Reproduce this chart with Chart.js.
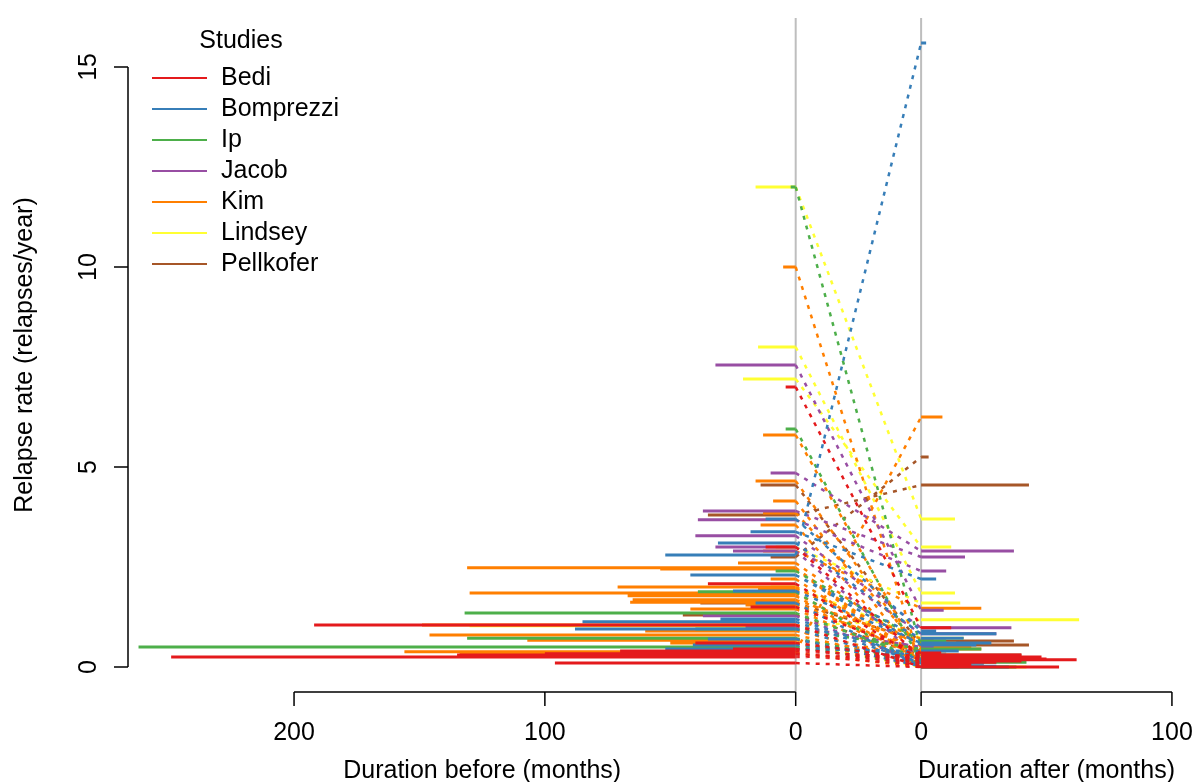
<!DOCTYPE html>
<html lang="en">

<head>
  <meta charset="UTF-8">
  <title>Relapse rate before and after</title>
  <style>
    body {
      margin: 0;
      background-color: #ffffff;
    }

    #chart {
      display: block;
    }
  </style>
  <script src="https://cdn.jsdelivr.net/npm/chart.js"></script>
</head>

<body>
  <canvas id="chart" width="1196" height="782"></canvas>

  <script>
    // Studies (legend order)
    const studies = ['Bedi', 'Bomprezzi', 'Ip', 'Jacob', 'Kim', 'Lindsey', 'Pellkofer'];

    // One entry per patient: study index, rate + duration before, rate + duration after
    const patientStudy = [
      0, 0, 0, 0, 0, 0, 0, 0, 0, 0, 0, 0,
      1, 1, 1, 1, 1, 1, 1, 1, 1, 1, 1, 1,
      2, 2, 2, 2, 2, 2, 2, 2,
      3, 3, 3, 3, 3, 3, 3, 3, 3,
      4, 4, 4, 4, 4, 4, 4, 4, 4, 4, 4, 4, 4, 4, 4, 4, 4, 4, 4, 4, 4, 4, 4,
      5, 5, 5, 5, 5, 5, 5,
      6, 6, 6, 6, 6, 6,
      0, 0, 1, 1, 2, 4, 4, 4
    ];
    const rateBefore = [
      7.0, 3.0, 2.08, 1.05, 0.25, 0.25, 0.3, 0.33, 0.1, 0.6, 0.45, 1.5,
      2.8, 3.38, 3.1, 2.3, 2.3, 1.6, 1.13, 0.95, 0.55, 0.45, 1.9, 3.7,
      12, 5.95, 1.88, 1.35, 0.72, 0.5, 0.5, 2.4,
      7.55, 4.85, 3.9, 3.68, 3.28, 3.0, 2.9, 1.28, 1.0,
      10, 5.8, 0.38, 4.65, 4.15, 3.85, 3.55, 2.9, 2.6, 2.48, 2.45, 2.0, 1.85, 1.78, 1.68, 1.62, 1.45, 1.05, 0.8, 0.67, 0.35, 1.95, 2.2,
      12, 8, 7.2, 1.03, 3.0, 2.0, 0.6,
      4.55, 3.8, 2.75, 1.6, 1.3, 0.7,
      0.28, 0.4, 0.7, 1.2, 0.95, 0.6, 1.55, 0.9
    ];
    const monthsBefore = [
      4, 12, 35, 192, 249, 141, 135, 100, 96, 40, 25, 18,
      52, 18, 31, 42, 20, 16, 85, 88, 41, 52, 25, 12,
      2, 4, 39, 132, 131, 262, 100, 8,
      32, 10, 37, 39, 40, 32, 25, 37, 20,
      5, 13, 156, 16, 9, 13, 14, 13, 23, 131, 54, 71, 130, 67, 65, 66, 42, 149, 146, 107, 134, 15, 10,
      16, 15, 21, 130, 8, 10, 18,
      14, 35, 10, 38, 45, 25,
      130, 70, 35, 30, 40, 50, 20, 60
    ];
    const rateAfter = [
      0.98, 0.25, 0.18, 0, 0.3, 0.25, 0.05, 0.12, 0, 0.2, 0.15, 0.35,
      15.6, 2.2, 0.83, 0.72, 0.55, 0, 0.1, 0.05, 0.3, 0.4, 0.6, 0.9,
      0.45, 0.12, 0, 0.2, 0.1, 0.05, 0.3, 0.65,
      1.42, 2.9, 2.75, 2.4, 0.98, 0.83, 0.2, 0.1, 0.5,
      0.1, 0.2, 6.25, 0.3, 0.05, 0.5, 0, 1.47, 0.45, 0.2, 0.1, 0.35, 0.15, 0, 0.6, 0.25, 0.05, 0.4, 0.1, 0.3, 0, 0.7, 0.15,
      3.7, 1.85, 3.0, 1.18, 1.6, 0.72, 0,
      0.55, 4.55, 5.25, 0.65, 0.3, 0.1,
      0.08, 0.22, 0.02, 0.18, 0.45, 0.12, 0.4, 0.2
    ];
    const monthsAfter = [
      12, 48, 62, 55, 40, 45, 20, 30, 10, 50, 40, 8,
      2, 6, 30, 17, 22, 35, 25, 20, 10, 15, 28, 6,
      24, 42, 38, 8, 5, 12, 4, 10,
      9, 37, 17.5, 10, 36, 30, 15, 8, 5,
      3, 6, 8.5, 15, 10, 20, 6, 24, 24, 18, 12, 8, 30, 4, 14, 6, 20, 10, 25, 2, 15, 5, 12,
      13.5, 13.5, 12, 63, 15.6, 17, 42,
      43, 43, 3, 37, 40, 10,
      15, 35, 30, 12, 20, 5, 3, 16
    ];

    // Tick labels of the split x axis and the y axis
    const xTicksBefore = [200, 100, 0];
    const xTicksAfter = [0, 100];
    const yTicks = [0, 5, 10, 15];

    // styles
    const studyColors = ['#E41A1C', '#377EB8', '#4DAF4A', '#984EA3', '#FF7F00', '#FFFF33', '#A65628'];
    const GAP = 50;            // width (in months units) of the connecting band
    const FONT = '25px "Liberation Sans", Arial, sans-serif';

    // Build 3 datasets per study: before segments, after segments, dashed connectors
    const datasets = [];
    studies.forEach((name, s) => {
      const before = [], after = [], link = [];
      patientStudy.forEach((st, i) => {
        if (st !== s) return;
        before.push({ x: -monthsBefore[i], y: rateBefore[i] }, { x: 0, y: rateBefore[i] }, { x: 0, y: null });
        after.push({ x: GAP, y: rateAfter[i] }, { x: GAP + monthsAfter[i], y: rateAfter[i] }, { x: GAP, y: null });
        link.push({ x: 0, y: rateBefore[i] }, { x: GAP, y: rateAfter[i] }, { x: 0, y: null });
      });
      const base = { borderColor: studyColors[s], pointRadius: 0, spanGaps: false, fill: false };
      datasets.push({ ...base, label: name, data: before, borderWidth: 3 });
      datasets.push({ ...base, label: name + ' after', data: after, borderWidth: 3 });
      datasets.push({ ...base, label: name + ' link', data: link, borderWidth: 2.5, borderDash: [4, 6] });
    });

    // R-like axes, titles and legend
    const rAxes = {
      id: 'rAxes',
      beforeDatasetsDraw(chart) {
        const { ctx, chartArea, scales: { x } } = chart;
        ctx.save();
        ctx.strokeStyle = '#bebebe';
        ctx.lineWidth = 2;
        [0, GAP].forEach(v => {
          const px = x.getPixelForValue(v);
          ctx.beginPath();
          ctx.moveTo(px, chartArea.top);
          ctx.lineTo(px, chartArea.bottom);
          ctx.stroke();
        });
        ctx.restore();
      },
      afterDraw(chart) {
        const { ctx, chartArea, scales: { x, y } } = chart;
        const bottom = chartArea.bottom;
        const left = chartArea.left;
        ctx.save();
        ctx.strokeStyle = '#000';
        ctx.fillStyle = '#000';
        ctx.lineWidth = 1.5;
        ctx.font = FONT;
        ctx.textAlign = 'center';
        ctx.textBaseline = 'middle';

        // x axis, drawn in two parts
        const drawXAxis = (ticks, toValue) => {
          const xs = ticks.map(t => x.getPixelForValue(toValue(t)));
          ctx.beginPath();
          ctx.moveTo(Math.min(...xs), bottom);
          ctx.lineTo(Math.max(...xs), bottom);
          xs.forEach(px => {
            ctx.moveTo(px, bottom);
            ctx.lineTo(px, bottom + 14);
          });
          ctx.stroke();
          ticks.forEach((t, i) => ctx.fillText(String(t), xs[i], bottom + 41));
        };
        drawXAxis(xTicksBefore, t => -t);
        drawXAxis(xTicksAfter, t => GAP + t);
        ctx.fillText('Duration before (months)', x.getPixelForValue(-125), bottom + 79);
        ctx.fillText('Duration after (months)', x.getPixelForValue(GAP + 50), bottom + 79);

        // y axis
        const ys = yTicks.map(t => y.getPixelForValue(t));
        ctx.beginPath();
        ctx.moveTo(left, ys[0]);
        ctx.lineTo(left, ys[ys.length - 1]);
        ys.forEach(py => {
          ctx.moveTo(left, py);
          ctx.lineTo(left - 14, py);
        });
        ctx.stroke();
        yTicks.forEach((t, i) => {
          ctx.save();
          ctx.translate(left - 39, ys[i]);
          ctx.rotate(-Math.PI / 2);
          ctx.fillText(String(t), 0, 0);
          ctx.restore();
        });
        ctx.save();
        ctx.translate(25, (chartArea.top + bottom) / 2);
        ctx.rotate(-Math.PI / 2);
        ctx.fillText('Relapse rate (relapses/year)', 0, 0);
        ctx.restore();

        // legend
        ctx.fillText('Studies', 241, 41);
        ctx.textAlign = 'left';
        studies.forEach((name, i) => {
          const ly = 78 + 31 * i;
          ctx.strokeStyle = studyColors[i];
          ctx.lineWidth = 2;
          ctx.beginPath();
          ctx.moveTo(152, ly);
          ctx.lineTo(207, ly);
          ctx.stroke();
          ctx.fillText(name, 221, ly);
        });
        ctx.restore();
      }
    };

    new Chart(document.getElementById('chart'), {
      type: 'line',
      data: { datasets: datasets },
      options: {
        responsive: false,
        animation: false,
        devicePixelRatio: 1,
        layout: { padding: { left: 128, right: 4, top: 18, bottom: 90 } },
        scales: {
          x: { type: 'linear', min: -266.2, max: 158, display: false },
          y: { type: 'linear', min: -0.624, max: 16.224, display: false }
        },
        plugins: {
          legend: { display: false },
          tooltip: { enabled: false }
        },
        elements: { line: { tension: 0 } }
      },
      plugins: [rAxes]
    });
  </script>
</body>

</html>
